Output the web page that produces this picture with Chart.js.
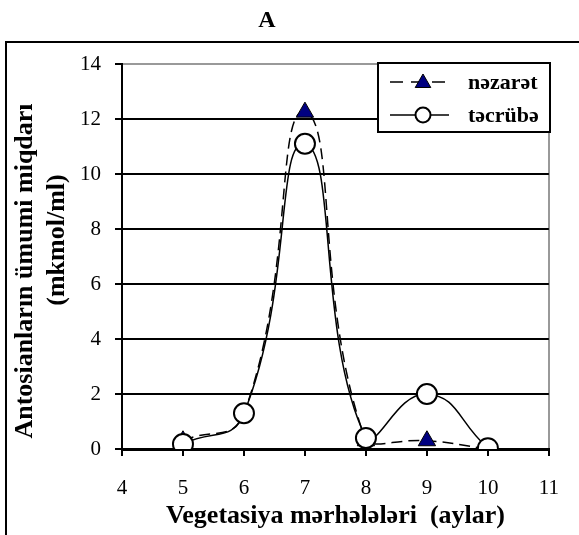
<!DOCTYPE html>
<html>
<head>
<meta charset="utf-8">
<script src="https://cdn.jsdelivr.net/npm/chart.js@4/dist/chart.umd.min.js"></script>
<style>
  html, body { margin: 0; padding: 0; background: #fff; overflow: hidden; }
  #wrap { position: relative; width: 579px; height: 535px; }
  #frame { position: absolute; left: 5px; top: 41px; width: 620px; height: 620px;
           border-left: 2px solid #000; border-top: 2px solid #000; box-sizing: border-box; }
  canvas { position: absolute; left: 0; top: 0; }
</style>
</head>
<body>
<div id="wrap">
  <div id="frame"></div>
  <canvas id="c" width="579" height="535"></canvas>
</div>
<script>
const months = [5, 6, 7, 8, 9, 10];
const nezaret = [0.3, 1.3, 12.25, 0.3, 0.3, 0.0];
const tecrube = [0.18, 1.3, 11.1, 0.4, 2.0, 0.03];
const yTicks = [0, 2, 4, 6, 8, 10, 12, 14];
const xTicks = [4, 5, 6, 7, 8, 9, 10, 11];
const yTitle = ["Antosianların ümumi miqdarı", "(mkmol/ml)"];

const serif = "'Liberation Serif', 'Times New Roman', serif";

const pts = (arr) => months.map((m, i) => ({ x: m, y: arr[i] }));

function drawMarker(ctx, style, r, x, y) {
  if (style === "triangle") {
    ctx.moveTo(x, y - r);
    ctx.lineTo(x + Math.sin(2 * Math.PI / 3) * r, y - Math.cos(2 * Math.PI / 3) * r);
    ctx.lineTo(x + Math.sin(4 * Math.PI / 3) * r, y - Math.cos(4 * Math.PI / 3) * r);
    ctx.closePath();
  } else {
    ctx.arc(x, y, r, 0, Math.PI * 2);
  }
}

// chart letter, rotated y title and the boxed legend, drawn by hand like the Word chart
const extras = {
  id: "extras",
  afterDraw(chart) {
    const ctx = chart.ctx;
    ctx.save();
    ctx.fillStyle = "#000";
    ctx.font = "bold 24px " + serif;
    ctx.textAlign = "center";
    ctx.textBaseline = "middle";
    ctx.fillText("A", 267, 21);

    ctx.font = "bold 26px " + serif;
    [[25, 271], [57, 240]].forEach(([x, y], i) => {
      ctx.save();
      ctx.translate(x, y);
      ctx.rotate(-Math.PI / 2);
      ctx.fillText(yTitle[i], 0, 0);
      ctx.restore();
    });

    const x0 = 378, y0 = 63, w = 172, h = 69;
    ctx.fillStyle = "#fff";
    ctx.fillRect(x0, y0, w, h);
    ctx.strokeStyle = "#000";
    ctx.lineWidth = 2;
    ctx.strokeRect(x0, y0, w, h);

    const rows = [82, 115];
    const legendR = [9, 7.5];
    [0, 1].forEach((di, k) => {
      const ds = chart.data.datasets[di];
      const y = rows[k];
      ctx.strokeStyle = ds.borderColor;
      ctx.lineWidth = ds.borderWidth;
      ctx.setLineDash(ds.borderDash ? [13, 8] : []);
      ctx.beginPath();
      ctx.moveTo(390, y);
      ctx.lineTo(449, y);
      ctx.stroke();
      ctx.setLineDash([]);
      ctx.fillStyle = ds.pointBackgroundColor;
      ctx.strokeStyle = ds.pointBorderColor;
      ctx.lineWidth = ds.pointBorderWidth;
      ctx.beginPath();
      drawMarker(ctx, ds.pointStyle, legendR[k], 423, y + (k === 0 ? 1 : 0));
      ctx.fill();
      ctx.stroke();
      ctx.fillStyle = "#000";
      ctx.font = "bold 22px " + serif;
      ctx.textAlign = "left";
      ctx.fillText(ds.label, 468, y + 1);
    });
    ctx.restore();
  }
};

new Chart(document.getElementById("c"), {
  type: "line",
  data: {
    datasets: [
      {
        label: "nəzarət",
        data: pts(nezaret),
        borderColor: "#000",
        borderWidth: 1.5,
        borderDash: [11, 6],
        tension: 0.5,
        pointStyle: "triangle",
        pointRadius: 10,
        pointBackgroundColor: "#000080",
        pointBorderColor: "#000",
        pointBorderWidth: 1,
        order: 2
      },
      {
        label: "təcrübə",
        data: pts(tecrube),
        borderColor: "#000",
        borderWidth: 1.5,
        tension: 0.5,
        pointStyle: "circle",
        pointRadius: 10,
        pointBackgroundColor: "#fff",
        pointBorderColor: "#000",
        pointBorderWidth: 2,
        order: 1
      }
    ]
  },
  options: {
    responsive: false,
    animation: false,
    layout: { padding: { top: 64, right: 26, left: 0, bottom: 0 } },
    plugins: {
      legend: { display: false },
      tooltip: { enabled: false }
    },
    scales: {
      x: {
        type: "linear",
        min: 4,
        max: 11,
        afterBuildTicks: (s) => { s.ticks = xTicks.map(v => ({ value: v })); },
        afterFit: (s) => { s.height = 86; },
        ticks: { font: { family: serif, size: 21 }, color: "#000", padding: 20 },
        grid: {
          color: (c) => (c.tick && c.tick.value === 11 ? "#999" : "rgba(0,0,0,0)"),
          tickColor: "#000",
          tickLength: 7,
          lineWidth: 2
        },
        border: { color: "#000", width: 3 },
        title: {
          display: true,
          text: "Vegetasiya mərhələləri  (aylar)",
          font: { family: serif, size: 26, weight: "bold", lineHeight: 1.15 },
          color: "#000",
          padding: { top: 0, bottom: 4 }
        }
      },
      y: {
        min: 0,
        max: 14,
        afterBuildTicks: (s) => { s.ticks = yTicks.map(v => ({ value: v })); },
        afterFit: (s) => { s.width = 122; },
        ticks: { font: { family: serif, size: 21 }, color: "#000", padding: 14 },
        grid: {
          color: (c) => (c.tick && c.tick.value === 14 ? "#999" : "#000"),
          tickColor: "#000",
          tickLength: 7,
          lineWidth: 2
        },
        border: { color: "#000", width: 2 },
        title: { display: false }
      }
    }
  },
  plugins: [extras]
});
</script>
</body>
</html>
